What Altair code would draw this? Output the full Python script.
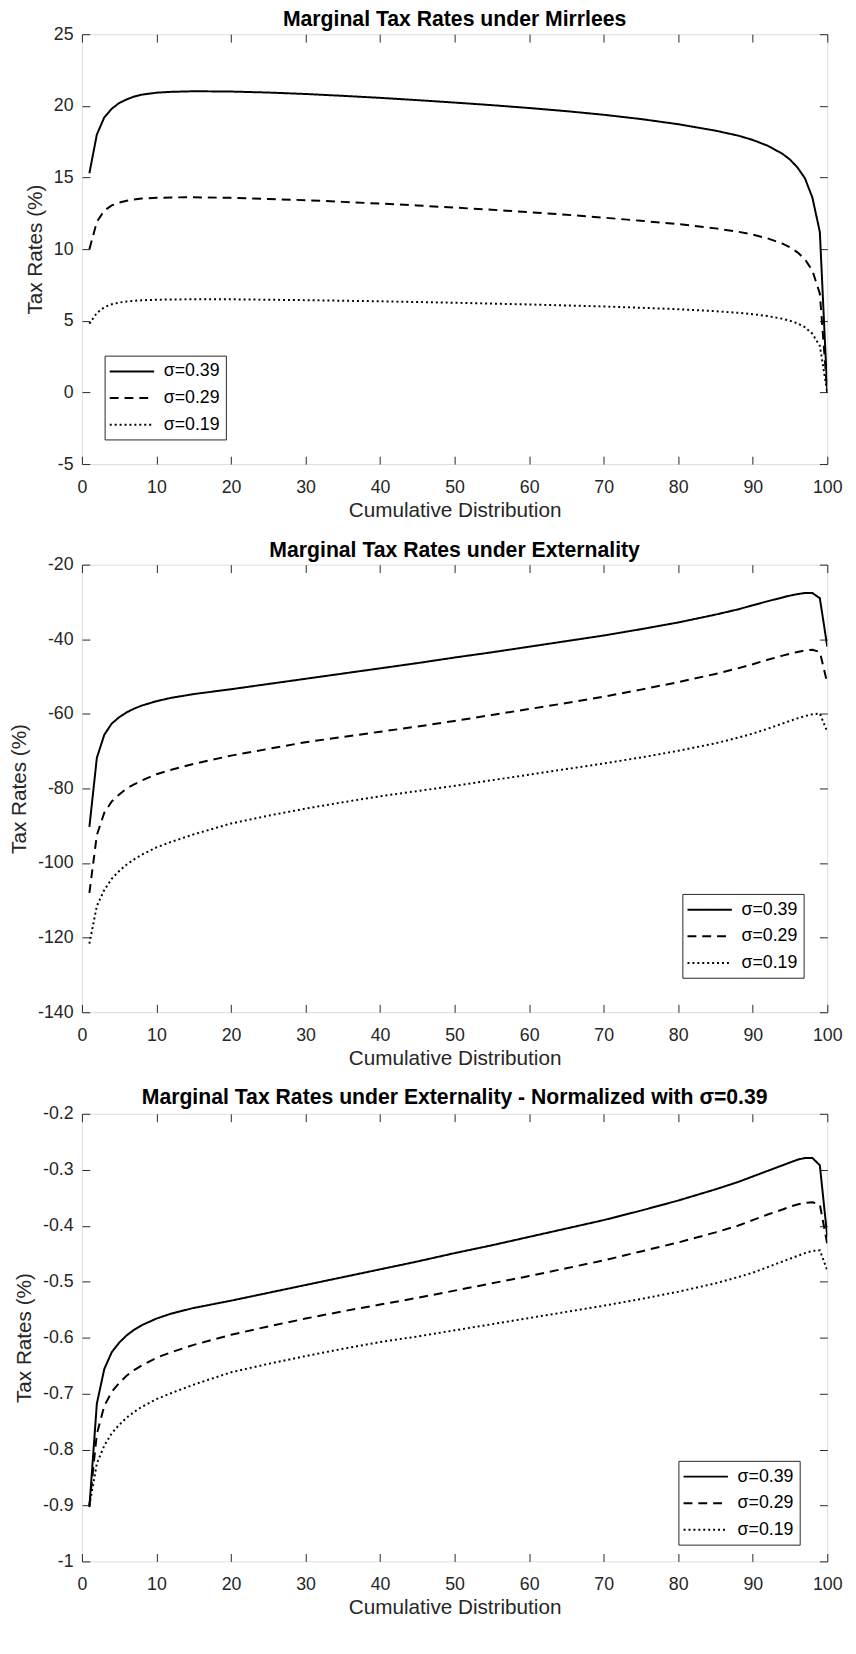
import altair as alt
import pandas as pd

# ---------------- data ----------------
X = [1, 2, 3, 4, 5, 6, 7, 8, 10, 12, 15, 20, 25, 30, 35, 40, 45, 50, 55, 60,
     65, 70, 75, 80, 85, 88, 90, 92, 94, 95, 96, 97, 98, 99, 100]
SERIES = ["σ=0.39", "σ=0.29", "σ=0.19"]

# Panel 1: Marginal Tax Rates under Mirrlees
MIR_039 = [15.3, 18.0, 19.2, 19.8, 20.2, 20.45, 20.65, 20.78, 20.92, 20.98, 21.02, 21.0,
           20.93, 20.83, 20.7, 20.56, 20.4, 20.23, 20.05, 19.85, 19.63, 19.38, 19.08,
           18.72, 18.27, 17.93, 17.62, 17.22, 16.65, 16.25, 15.7, 14.95, 13.6, 11.2, 0.0]
MIR_029 = [10.0, 11.9, 12.7, 13.05, 13.25, 13.38, 13.47, 13.53, 13.58, 13.61, 13.62, 13.58,
           13.5, 13.42, 13.3, 13.18, 13.05, 12.9, 12.75, 12.58, 12.4, 12.2, 11.98, 11.75,
           11.45, 11.22, 11.02, 10.75, 10.38, 10.12, 9.78, 9.3, 8.5, 6.9, 0.0]
MIR_019 = [4.8, 5.55, 5.95, 6.15, 6.27, 6.35, 6.4, 6.43, 6.47, 6.49, 6.5, 6.5, 6.47, 6.44,
           6.4, 6.36, 6.31, 6.26, 6.2, 6.14, 6.07, 6.0, 5.91, 5.81, 5.67, 5.56, 5.46, 5.33,
           5.14, 5.0, 4.82, 4.55, 4.1, 3.25, 0.0]

# Panel 2: Marginal Tax Rates under Externality
EXT_039 = [-90.3, -71.8, -65.6, -62.6, -60.9, -59.6, -58.6, -57.8, -56.6, -55.7, -54.7,
           -53.4, -52.0, -50.6, -49.2, -47.8, -46.4, -44.9, -43.5, -42.0, -40.5, -39.0,
           -37.3, -35.5, -33.4, -32.0, -30.9, -29.8, -28.8, -28.3, -27.9, -27.6, -27.6,
           -29.0, -42.0]
EXT_029 = [-108.0, -92.5, -86.5, -83.5, -81.6, -80.0, -78.9, -77.9, -76.2, -75.0, -73.4,
           -71.2, -69.4, -67.6, -66.2, -64.8, -63.4, -61.9, -60.3, -58.7, -57.1, -55.4,
           -53.5, -51.5, -49.3, -47.8, -46.7, -45.5, -44.4, -43.9, -43.4, -43.0, -42.8,
           -43.4, -51.8]
EXT_019 = [-121.6, -111.5, -107.2, -104.2, -102.1, -100.4, -99.0, -97.8, -95.8, -94.3,
           -92.3, -89.4, -87.3, -85.4, -83.7, -82.1, -80.7, -79.3, -77.8, -76.3, -74.8,
           -73.3, -71.7, -69.9, -67.9, -66.4, -65.3, -64.0, -62.6, -61.9, -61.2, -60.6,
           -60.1, -59.9, -64.8]

# Panel 3: Marginal Tax Rates under Externality - Normalized with sigma=0.39
NRM_039 = [-0.903, -0.718, -0.656, -0.626, -0.609, -0.596, -0.586, -0.578, -0.566, -0.557,
           -0.547, -0.534, -0.520, -0.506, -0.492, -0.478, -0.464, -0.449, -0.435, -0.420,
           -0.405, -0.390, -0.373, -0.355, -0.335, -0.322, -0.312, -0.302, -0.292, -0.287,
           -0.282, -0.279, -0.279, -0.292, -0.420]
NRM_029 = [-0.900, -0.772, -0.722, -0.697, -0.681, -0.668, -0.658, -0.650, -0.636, -0.626,
           -0.613, -0.595, -0.580, -0.566, -0.553, -0.541, -0.529, -0.516, -0.503, -0.490,
           -0.476, -0.462, -0.446, -0.430, -0.412, -0.400, -0.390, -0.380, -0.371, -0.366,
           -0.362, -0.359, -0.358, -0.362, -0.433]
NRM_019 = [-0.900, -0.825, -0.793, -0.771, -0.756, -0.743, -0.733, -0.724, -0.710, -0.699,
           -0.684, -0.662, -0.647, -0.633, -0.620, -0.608, -0.598, -0.587, -0.576, -0.565,
           -0.554, -0.543, -0.531, -0.518, -0.503, -0.492, -0.484, -0.474, -0.464, -0.459,
           -0.454, -0.449, -0.445, -0.444, -0.480]

X_TICKS = [0, 10, 20, 30, 40, 50, 60, 70, 80, 90, 100]
Y1_TICKS = [-5, 0, 5, 10, 15, 20, 25]
Y2_TICKS = [-140, -120, -100, -80, -60, -40, -20]
Y3_TICKS = [-1.0, -0.9, -0.8, -0.7, -0.6, -0.5, -0.4, -0.3, -0.2]

TITLES = ["Marginal Tax Rates under Mirrlees",
          "Marginal Tax Rates under Externality",
          "Marginal Tax Rates under Externality - Normalized with σ=0.39"]

# ---------------- styling ----------------
FONT = "Liberation Sans"
AX = "#262626"
TICK = 8
W = 756
LABEL_FS = 18
AXTITLE_FS = 21
TITLE_FS = 21.5


def make_df(a, b, c):
    rows = []
    for name, vals in zip(SERIES, (a, b, c)):
        for xv, yv in zip(X, vals):
            rows.append({"x": xv, "y": yv, "series": name})
    return pd.DataFrame(rows)


LABEL_EXPR = "replace(format(datum.value, '~g'), '\u2212', '-')"


def panel(vals, title, ydom, yticks, lx, ly, h, toff):
    df = make_df(*vals)
    xs = alt.Scale(domain=[0, 100], nice=False, zero=False)
    ys = alt.Scale(domain=ydom, nice=False, zero=False)
    lines = alt.Chart(df).mark_line(color="black", strokeWidth=2, clip=True).encode(
        x=alt.X("x:Q", scale=xs, axis=alt.Axis(
            orient="bottom", values=X_TICKS, tickSize=TICK, offset=-TICK, domain=False,
            grid=False, tickColor=AX, labelColor=AX, labelFont=FONT, labelFontSize=LABEL_FS,
            labelPadding=15, labelFlush=False, labelExpr=LABEL_EXPR,
            title="Cumulative Distribution", titleFont=FONT, titleFontSize=AXTITLE_FS,
            titleFontWeight="normal", titleColor=AX, titlePadding=3)),
        y=alt.Y("y:Q", scale=ys, axis=alt.Axis(
            orient="left", values=yticks, tickSize=TICK, offset=-TICK, domain=False,
            grid=False, tickColor=AX, labelColor=AX, labelFont=FONT, labelFontSize=LABEL_FS,
            labelPadding=9, labelFlush=False, labelExpr=LABEL_EXPR,
            title="Tax Rates (%)", titleFont=FONT, titleFontSize=AXTITLE_FS,
            titleFontWeight="normal", titleColor=AX, titlePadding=8)),
        strokeDash=alt.StrokeDash(
            "series:N", sort=SERIES, title=None,
            scale=alt.Scale(domain=SERIES, range=[[1, 0], [9, 6], [2, 3]]),
            legend=alt.Legend(
                orient="none", legendX=lx, legendY=ly, direction="vertical",
                fillColor="white", strokeColor=AX, padding=6, cornerRadius=0,
                symbolType="M-1.2,0H3.8", symbolSize=324, symbolStrokeWidth=2,
                symbolStrokeColor="black", symbolFillColor="transparent",
                labelFont=FONT, labelFontSize=LABEL_FS, labelColor="black",
                labelOffset=34, rowPadding=8)),
    )
    mirror = alt.Chart(df).mark_line(opacity=0).encode(
        x=alt.X("x:Q", scale=xs, axis=alt.Axis(
            orient="top", values=X_TICKS, tickSize=TICK, offset=-TICK, domain=False,
            grid=False, labels=False, tickColor=AX, title=None)),
        y=alt.Y("y:Q", scale=ys, axis=alt.Axis(
            orient="right", values=yticks, tickSize=TICK, offset=-TICK, domain=False,
            grid=False, labels=False, tickColor=AX, title=None)),
        detail="series:N",
    )
    return alt.layer(lines, mirror).resolve_axis(x="independent", y="independent").properties(
        width=W, height=h,
        title=alt.TitleParams(text=title, font=FONT, fontSize=TITLE_FS, fontWeight="bold",
                              color="black", anchor="middle", frame="group", offset=toff))


p1 = panel((MIR_039, MIR_029, MIR_019), TITLES[0], [-5, 25], Y1_TICKS, 23, 326, 436, -5)
p2 = panel((EXT_039, EXT_029, EXT_019), TITLES[1], [-140, -20], Y2_TICKS, 609, 334, 454, -5.5)
p3 = panel((NRM_039, NRM_029, NRM_019), TITLES[2], [-1, -0.2], Y3_TICKS, 605, 352, 454, -4)

chart = alt.vconcat(p1, p2, p3, spacing=18).resolve_scale(
    strokeDash="independent"
).resolve_legend(
    strokeDash="independent"
).properties(
    padding={"top": -11, "left": 0, "right": 5, "bottom": 2}
).configure_view(stroke=AX, strokeWidth=1).configure(font=FONT)

chart.save("out.html", embed_options={"renderer": "svg", "actions": False})
